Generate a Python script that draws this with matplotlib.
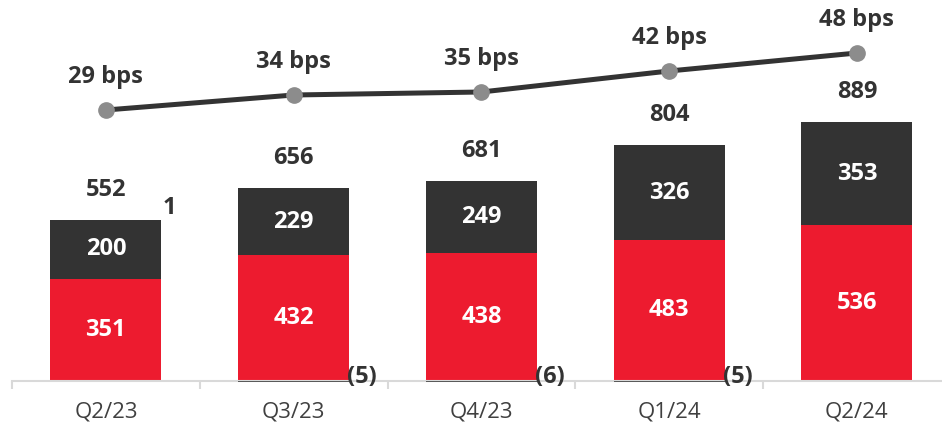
import matplotlib
matplotlib.use("Agg")
import matplotlib.pyplot as plt
import numpy as np

categories = ["Q2/23", "Q3/23", "Q4/23", "Q1/24", "Q2/24"]
red_vals = [351, 432, 438, 483, 536]
dark_vals = [200, 229, 249, 326, 353]
other_vals = [1, -5, -6, -5, 0]
totals = [552, 656, 681, 804, 889]
bps = [29, 34, 35, 42, 48]
bps_labels = ["29 bps", "34 bps", "35 bps", "42 bps", "48 bps"]

RED = "#ED1B2F"
DARK = "#333333"
NEG = "#5a5a5a"
TXT = "#333333"

W, H = 942, 429
fig = plt.figure(figsize=(W / 100, H / 100), dpi=100)
plt.rcParams['font.family'] = ['Open Sans', 'DejaVu Sans']

scale = 0.2905          # px per unit
zero_px = 380.5         # baseline from top (px)
ax_bot_px = 392.0
left_px = 12.0
spacing = 187.75
ax = fig.add_axes([left_px / W, (H - ax_bot_px) / H, (W - left_px) / W, ax_bot_px / H])

x = np.arange(len(categories))
bw = 0.59
ax.bar(x, red_vals, bw, color=RED, zorder=2)
ax.bar(x, dark_vals, bw, bottom=red_vals, color=DARK, zorder=2)
pos_other = [max(v, 0) for v in other_vals]
neg_other = [min(v, 0) for v in other_vals]
tops = [r + d for r, d in zip(red_vals, dark_vals)]
ax.bar(x, pos_other, bw, bottom=tops, color="#7f7f7f", zorder=2)
ax.bar(x, neg_other, bw, color=NEG, zorder=3)

fs = 17
for i in range(len(x)):
    ax.text(x[i], red_vals[i] / 2, f"{red_vals[i]}", ha="center", va="center",
            color="white", fontsize=fs, fontweight="bold", zorder=4)
    ax.text(x[i], red_vals[i] + dark_vals[i] / 2, f"{dark_vals[i]}", ha="center", va="center",
            color="white", fontsize=fs, fontweight="bold", zorder=4)
    ax.annotate(f"{totals[i]}", (x[i], tops[i] + pos_other[i]), xytext=(0, 30),
                textcoords="offset pixels", ha="center", va="center",
                color=TXT, fontsize=fs, fontweight="bold")
    v = other_vals[i]
    if v > 0:
        ax.annotate(f"{v}", (x[i] + bw / 2, tops[i]), xytext=(1, 12),
                    textcoords="offset pixels", ha="left", va="center",
                    color=TXT, fontsize=fs, fontweight="bold")
    elif v < 0:
        ax.annotate(f"({-v})", (x[i] + bw / 2, 0), xytext=(-2, 3),
                    textcoords="offset pixels", ha="left", va="center",
                    color=TXT, fontsize=fs, fontweight="bold")

for s in ["top", "right", "left"]:
    ax.spines[s].set_visible(False)
ax.spines["bottom"].set_position(("data", 0))
ax.spines["bottom"].set_color("#d9d9d9")
ax.spines["bottom"].set_linewidth(1.5)
ax.set_yticks([])
ax.set_xticks(x)
ax.set_xticklabels(categories, fontsize=16, color="#404040")
ax.set_xticks(np.arange(-0.5, len(x) + 0.5, 1), minor=True)
ax.tick_params(axis="x", which="major", length=0, pad=15)
ax.tick_params(axis="x", which="minor", length=6, width=1.5, color="#d9d9d9", direction="out")

ax2 = ax.twinx()
slope = 3.0
y29_px = 110.0
b_bot = bps[0] - (ax_bot_px - y29_px) / slope
b_top = b_bot + ax_bot_px / slope
ax2.plot(x, bps, color=DARK, lw=3.6, marker="o", markersize=11,
         markerfacecolor="#8c8c8c", markeredgecolor="#8c8c8c", zorder=5, solid_capstyle="butt")
for i in range(len(x)):
    ax2.annotate(bps_labels[i], (x[i], bps[i]), xytext=(0, 33), textcoords="offset pixels",
                 ha="center", va="center", color=TXT, fontsize=fs, fontweight="bold")
ax2.set_yticks([])
for s in ax2.spines.values():
    s.set_visible(False)

ax.set_xlim(-0.5, -0.5 + (W - left_px) / spacing)
ax.set_ylim(-(ax_bot_px - zero_px) / scale, zero_px / scale)
ax2.set_ylim(b_bot, b_top)

fig.savefig("out.png", dpi=100)
